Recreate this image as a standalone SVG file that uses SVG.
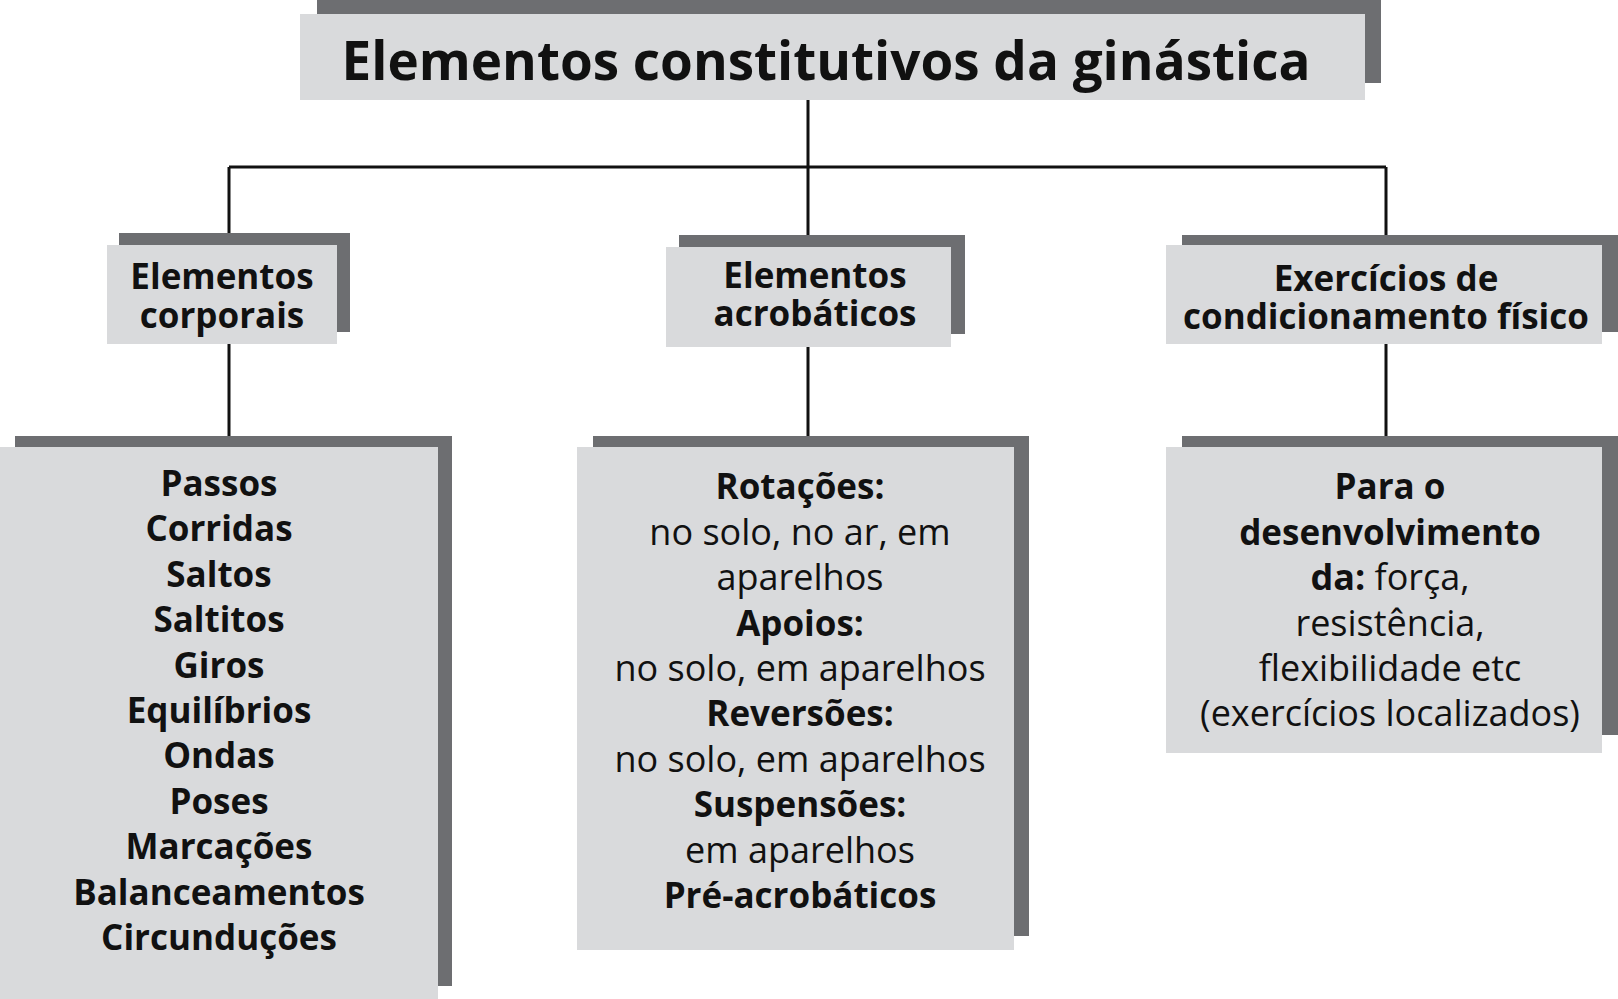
<svg xmlns="http://www.w3.org/2000/svg" width="1618" height="999" viewBox="0 0 1618 999">
<style>
.d{fill:#6d6e71}.l{fill:#d9dadc}
text{font-family:"Open Sans","Liberation Sans",sans-serif;fill:#111;text-anchor:middle;font-size:36px}
.b{font-weight:bold;font-size:35px}.t{font-size:53px;font-weight:bold}
.h{font-weight:bold;font-size:35px}
.c{stroke:#111;stroke-width:3;fill:none}
</style>
<rect width="1618" height="999" fill="#fff"/>
<g id="connectors">
<path class="c" d="M808 100V235M229 167H1386M229 167V245M1386 167V245M229 344V436M808 347V436M1386 344V436"/>
</g>
<g id="title"><rect class="d" x="317" y="0" width="1064" height="83"/><rect class="l" x="300" y="14" width="1065" height="86"/>
<text class="t" x="826" y="80">Elementos constitutivos da ginástica</text></g>
<g id="n1"><rect class="d" x="119" y="233" width="231" height="99"/><rect class="l" x="107" y="245" width="230" height="99"/>
<text class="h" x="222" y="289">Elementos</text><text class="h" x="222" y="328">corporais</text></g>
<g id="n2"><rect class="d" x="679" y="235" width="286" height="99"/><rect class="l" x="666" y="247" width="285" height="100"/>
<text class="h" x="815" y="288">Elementos</text><text class="h" x="815" y="326">acrobáticos</text></g>
<g id="n3"><rect class="d" x="1182" y="235" width="436" height="97"/><rect class="l" x="1166" y="245" width="436" height="99"/>
<text class="h" x="1386" y="291">Exercícios de</text><text class="h" x="1386" y="329">condicionamento físico</text></g>
<g id="n4"><rect class="d" x="15" y="436" width="437" height="550"/><rect class="l" x="0" y="447" width="438" height="552"/>
<text class="b" x="219" y="496">Passos</text><text class="b" x="219" y="541">Corridas</text><text class="b" x="219" y="587">Saltos</text><text class="b" x="219" y="632">Saltitos</text><text class="b" x="219" y="678">Giros</text><text class="b" x="219" y="723">Equilíbrios</text><text class="b" x="219" y="768">Ondas</text><text class="b" x="219" y="814">Poses</text><text class="b" x="219" y="859">Marcações</text><text class="b" x="219" y="905">Balanceamentos</text><text class="b" x="219" y="950">Circunduções</text></g>
<g id="n5"><rect class="d" x="593" y="436" width="436" height="500"/><rect class="l" x="577" y="447" width="437" height="503"/>
<text class="b" x="800" y="499">Rotações:</text><text x="800" y="545">no solo, no ar, em</text><text x="800" y="590">aparelhos</text><text class="b" x="800" y="636">Apoios:</text><text x="800" y="681">no solo, em aparelhos</text><text class="b" x="800" y="726">Reversões:</text><text x="800" y="772">no solo, em aparelhos</text><text class="b" x="800" y="817">Suspensões:</text><text x="800" y="863">em aparelhos</text><text class="b" x="800" y="908">Pré-acrobáticos</text></g>
<g id="n6"><rect class="d" x="1182" y="436" width="436" height="299"/><rect class="l" x="1166" y="447" width="436" height="306"/>
<text class="b" x="1390" y="499">Para o</text><text class="b" x="1390" y="545">desenvolvimento</text><text x="1390" y="590"><tspan style="font-weight:bold">da:</tspan> força,</text><text x="1390" y="636">resistência,</text><text x="1390" y="681">flexibilidade etc</text><text x="1390" y="726">(exercícios localizados)</text></g>
</svg>
